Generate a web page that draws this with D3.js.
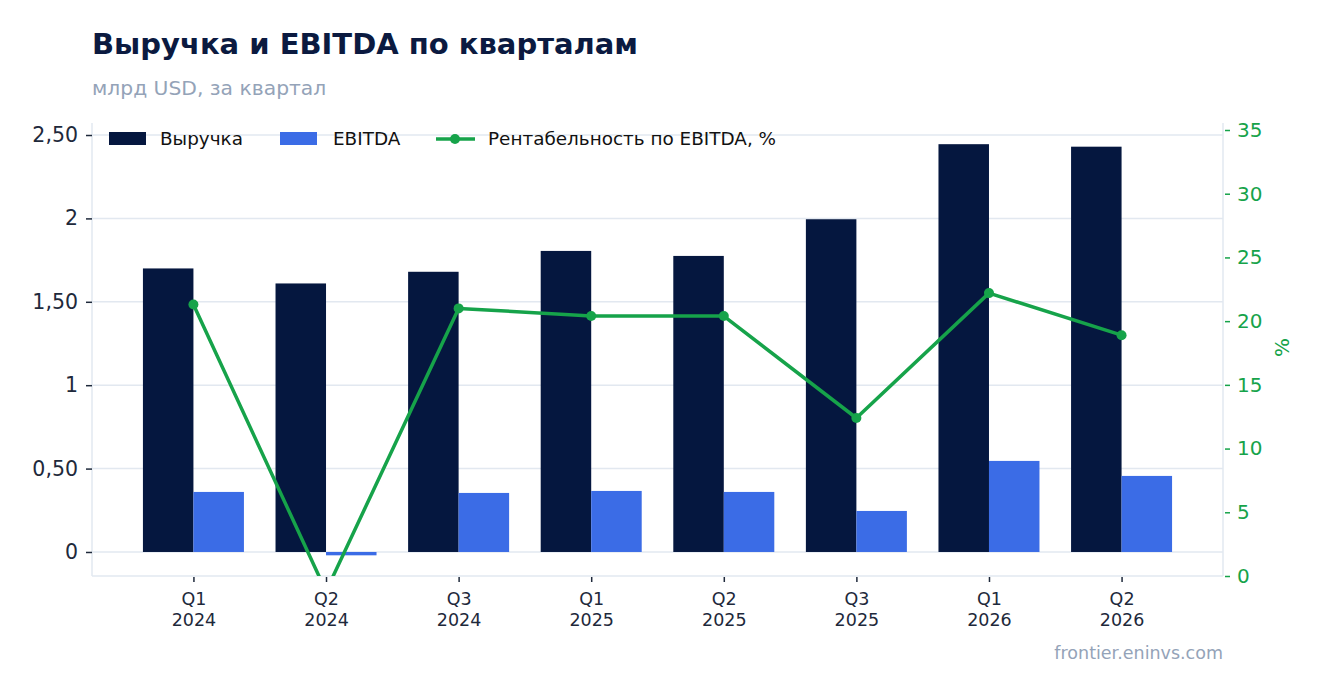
<!DOCTYPE html>
<meta charset="utf-8">
<script src="https://d3js.org/d3.v7.min.js"></script>
<style>
  body { margin: 0; background: #fff; }
  svg text { font-family: "DejaVu Sans", sans-serif; }
</style>
<div id="chart"></div>
<script>

// data
var quarters = ["Q1 2024", "Q2 2024", "Q3 2024", "Q1 2025", "Q2 2025", "Q3 2025", "Q1 2026", "Q2 2026"];
var revenue = [1.70, 1.61, 1.68, 1.805, 1.775, 1.995, 2.445, 2.43];
var ebitda = [0.36, -0.02, 0.354, 0.366, 0.36, 0.246, 0.546, 0.456];
var margin_pct = [21.3, -1.2, 21.0, 20.4, 20.4, 12.4, 22.2, 18.9];
var leftTicks = [0, 0.5, 1, 1.5, 2, 2.5];
var leftTickLabels = ["0", "0,50", "1", "1,50", "2", "2,50"];
var rightTicks = [0, 5, 10, 15, 20, 25, 30, 35];

var W = 1323, H = 693;
var m = {top: 123, right: 100, bottom: 117, left: 92},
    width = W - m.left - m.right,
    height = H - m.top - m.bottom;

var navy = "#05173f", blue = "#3b6ce6", green = "#16a34a", grid = "#e2e8f0", ink = "#1e293b";

var svg = d3.select("#chart").append("svg")
    .attr("width", W).attr("height", H);

// title
svg.append("text").attr("x", 92).attr("y", 54).text("Выручка и EBITDA по кварталам")
    .style("font-size", "29px").style("font-weight", "bold").style("fill", "#0b1a40");
svg.append("text").attr("x", 92).attr("y", 95).text("млрд USD, за квартал")
    .style("font-size", "20.3px").style("fill", "#94a3b8");

var g = svg.append("g").attr("transform", "translate(" + m.left + "," + m.top + ")");

// scales
var x = d3.scalePoint().domain(quarters).range([0, width]).padding(0.765);
var xs = d3.scaleBand().domain(["rev", "ebitda"]).range([-50.5, 50.5]);
var y = d3.scaleLinear().domain([-0.144, 2.572]).range([height, 0]);
var y2 = d3.scaleLinear().domain([0, 35.55]).range([height, 0]);

// grid
g.selectAll(".grid").data(leftTicks).enter().append("line")
    .attr("x1", 0).attr("x2", width)
    .attr("y1", function(d) { return y(d); }).attr("y2", function(d) { return y(d); })
    .style("stroke", grid).style("stroke-width", 1.5);

// left axis
var yAxis = g.append("g")
    .call(d3.axisLeft(y).tickValues(leftTicks).tickSize(6).tickPadding(8)
      .tickFormat(function(d, i) { return leftTickLabels[i]; }));
yAxis.select(".domain").style("stroke", grid).style("stroke-width", 1.5).attr("d", "M0,0V" + height);
yAxis.selectAll(".tick line").style("stroke", ink).style("stroke-width", 1.5);
yAxis.selectAll("text").style("font-size", "20.5px").style("fill", ink);

// right axis
var yAxis2 = g.append("g").attr("transform", "translate(" + width + ",0)")
    .call(d3.axisRight(y2).tickValues(rightTicks).tickSize(7).tickPadding(7));
yAxis2.select(".domain").style("stroke", grid).style("stroke-width", 1.5).attr("d", "M0,0V" + height);
yAxis2.selectAll(".tick line").style("stroke", green).style("stroke-width", 1.5).attr("x1", 2);
yAxis2.selectAll("text").style("font-size", "20px").style("fill", green);

svg.append("text")
    .attr("transform", "translate(1289," + (m.top + height / 2 - 2) + ") rotate(-90)")
    .attr("text-anchor", "middle").text("%")
    .style("font-size", "20px").style("fill", green);

// bottom axis
var xAxis = g.append("g").attr("transform", "translate(0," + height + ")")
    .call(d3.axisBottom(x).tickSize(6).tickPadding(11));
xAxis.select(".domain").style("stroke", grid).style("stroke-width", 1.5).attr("d", "M0,0H" + width);
xAxis.selectAll(".tick line").style("stroke", ink).style("stroke-width", 1.5).attr("y1", 1);
xAxis.selectAll(".tick text").each(function(d) {
  var t = d3.select(this), parts = d.split(" ");
  t.text(null).style("font-size", "17.5px").style("fill", ink);
  t.append("tspan").attr("x", 0).attr("dy", "0.71em").text(parts[0]);
  t.append("tspan").attr("x", 0).attr("dy", "1.2em").text(parts[1]);
});

// bars
g.selectAll(".rev").data(revenue).enter().append("rect")
    .attr("x", function(d, i) { return x(quarters[i]) + xs("rev"); })
    .attr("width", xs.bandwidth())
    .attr("y", function(d) { return y(Math.max(0, d)); })
    .attr("height", function(d) { return Math.abs(y(d) - y(0)); })
    .style("fill", navy);
g.selectAll(".ebitda").data(ebitda).enter().append("rect")
    .attr("x", function(d, i) { return x(quarters[i]) + xs("ebitda"); })
    .attr("width", xs.bandwidth())
    .attr("y", function(d) { return y(Math.max(0, d)); })
    .attr("height", function(d) { return Math.abs(y(d) - y(0)); })
    .style("fill", blue);

// margin line, clipped to the plot
g.append("clipPath").attr("id", "plotclip").append("rect")
    .attr("x", 0).attr("y", 0).attr("width", width).attr("height", height);
var lg = g.append("g").attr("clip-path", "url(#plotclip)");
lg.append("path").datum(margin_pct)
    .attr("d", d3.line().x(function(d, i) { return x(quarters[i]); }).y(function(d) { return y2(d); }))
    .style("fill", "none").style("stroke", green).style("stroke-width", 3.5).style("stroke-linejoin", "round");
lg.selectAll(".dot").data(margin_pct).enter().append("circle")
    .attr("cx", function(d, i) { return x(quarters[i]); })
    .attr("cy", function(d) { return y2(d); })
    .attr("r", 5).style("fill", green);

// legend
var leg = svg.append("g").attr("transform", "translate(109,139)");
leg.append("rect").attr("x", 0).attr("y", -7).attr("width", 37).attr("height", 13).style("fill", navy);
leg.append("text").attr("x", 51).attr("y", 0).attr("dy", "0.35em").text("Выручка").style("font-size", "18.4px").style("fill", "#111");
leg.append("rect").attr("x", 171).attr("y", -7).attr("width", 37).attr("height", 13).style("fill", blue);
leg.append("text").attr("x", 224).attr("y", 0).attr("dy", "0.35em").text("EBITDA").style("font-size", "18.4px").style("fill", "#111");
leg.append("line").attr("x1", 327).attr("x2", 366).attr("y1", 0).attr("y2", 0).style("stroke", green).style("stroke-width", 3.5);
leg.append("circle").attr("cx", 346).attr("cy", 0).attr("r", 5).style("fill", green);
leg.append("text").attr("x", 379).attr("y", 0).attr("dy", "0.35em").text("Рентабельность по EBITDA, %").style("font-size", "18.4px").style("fill", "#111");

// source
svg.append("text").attr("x", 1223).attr("y", 659).attr("text-anchor", "end")
    .text("frontier.eninvs.com").style("font-size", "17.5px").style("fill", "#94a3b8");

</script>
